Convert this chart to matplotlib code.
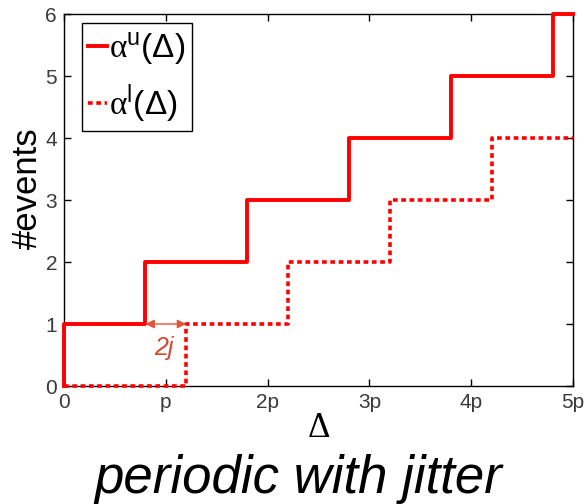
import matplotlib
matplotlib.use('Agg')
import matplotlib.pyplot as plt

# data (x in units of the period p)
upper_x = [0, 0, 0.8, 1.8, 2.8, 3.8, 4.8, 5.0]
upper_y = [0, 1, 2, 3, 4, 5, 6, 6]
lower_x = [0, 1.2, 2.2, 3.2, 4.2, 5.0]
lower_y = [0, 1, 2, 3, 4, 4]
x_ticks = [0, 1, 2, 3, 4, 5]
x_tick_labels = ['0', 'p', '2p', '3p', '4p', '5p']
y_ticks = [0, 1, 2, 3, 4, 5, 6]
jitter_span = [0.8, 1.2]

plt.rcParams.update({
    'font.family': 'Liberation Sans',
    'mathtext.fontset': 'custom',
    'mathtext.rm': 'Liberation Sans',
    'mathtext.it': 'Liberation Sans:italic',
    'mathtext.sf': 'Liberation Serif',
})

fig = plt.figure(figsize=(5.86, 5.04), dpi=100)
ax = fig.add_axes([64 / 586, 1 - 386 / 504, 509 / 586, 372 / 504])

red = '#ff0000'
ax.step(upper_x, upper_y, where='post', color=red, lw=2.8, clip_on=False,
        label=r'$\mathsf{\alpha}^{\mathrm{u}}(\Delta)$', zorder=3)
ax.step(lower_x, lower_y, where='post', color=red, lw=2.6, clip_on=False,
        linestyle=(0, (1.3, 1.0)), label=r'$\mathsf{\alpha}^{\mathrm{l}}(\Delta)$', zorder=3)

# jitter arrow
ax.annotate('', xy=(jitter_span[1], 1), xytext=(jitter_span[0], 1),
            arrowprops=dict(arrowstyle='<|-|>', color='#e0553c', lw=1.0,
                            mutation_scale=13, shrinkA=0, shrinkB=0))
ax.text(sum(jitter_span) / 2 - 0.02, 0.62, '2j', color='#d8442c', fontsize=18,
        style='italic', ha='center', va='center')

ax.set_xlim(0, 5)
ax.set_ylim(0, 6)
ax.set_xticks(x_ticks)
ax.set_xticklabels(x_tick_labels)
ax.set_yticks(y_ticks)
ax.tick_params(direction='in', top=True, right=True, length=5, width=1,
               labelsize=15, labelcolor='#3a3a3a', pad=5)
for s in ax.spines.values():
    s.set_linewidth(1.0)

ax.set_ylabel('#events', fontsize=25)
ax.yaxis.set_label_coords(-0.04, 0.532)
ax.set_xlabel('\u0394', fontsize=25, family='Liberation Serif', labelpad=0)

leg = ax.legend(loc='upper left', bbox_to_anchor=(0.035, 0.975), fontsize=24,
                handlelength=0.55, handletextpad=0.08, borderpad=0.2,
                labelspacing=0.45, fancybox=False, framealpha=1,
                edgecolor='black', borderaxespad=0)
leg.get_frame().set_linewidth(1.0)

fig.text(0.5085, 0.05, 'periodic with jitter', fontsize=38, style='italic',
         ha='center', va='center')

fig.savefig('out.png', dpi=100)
